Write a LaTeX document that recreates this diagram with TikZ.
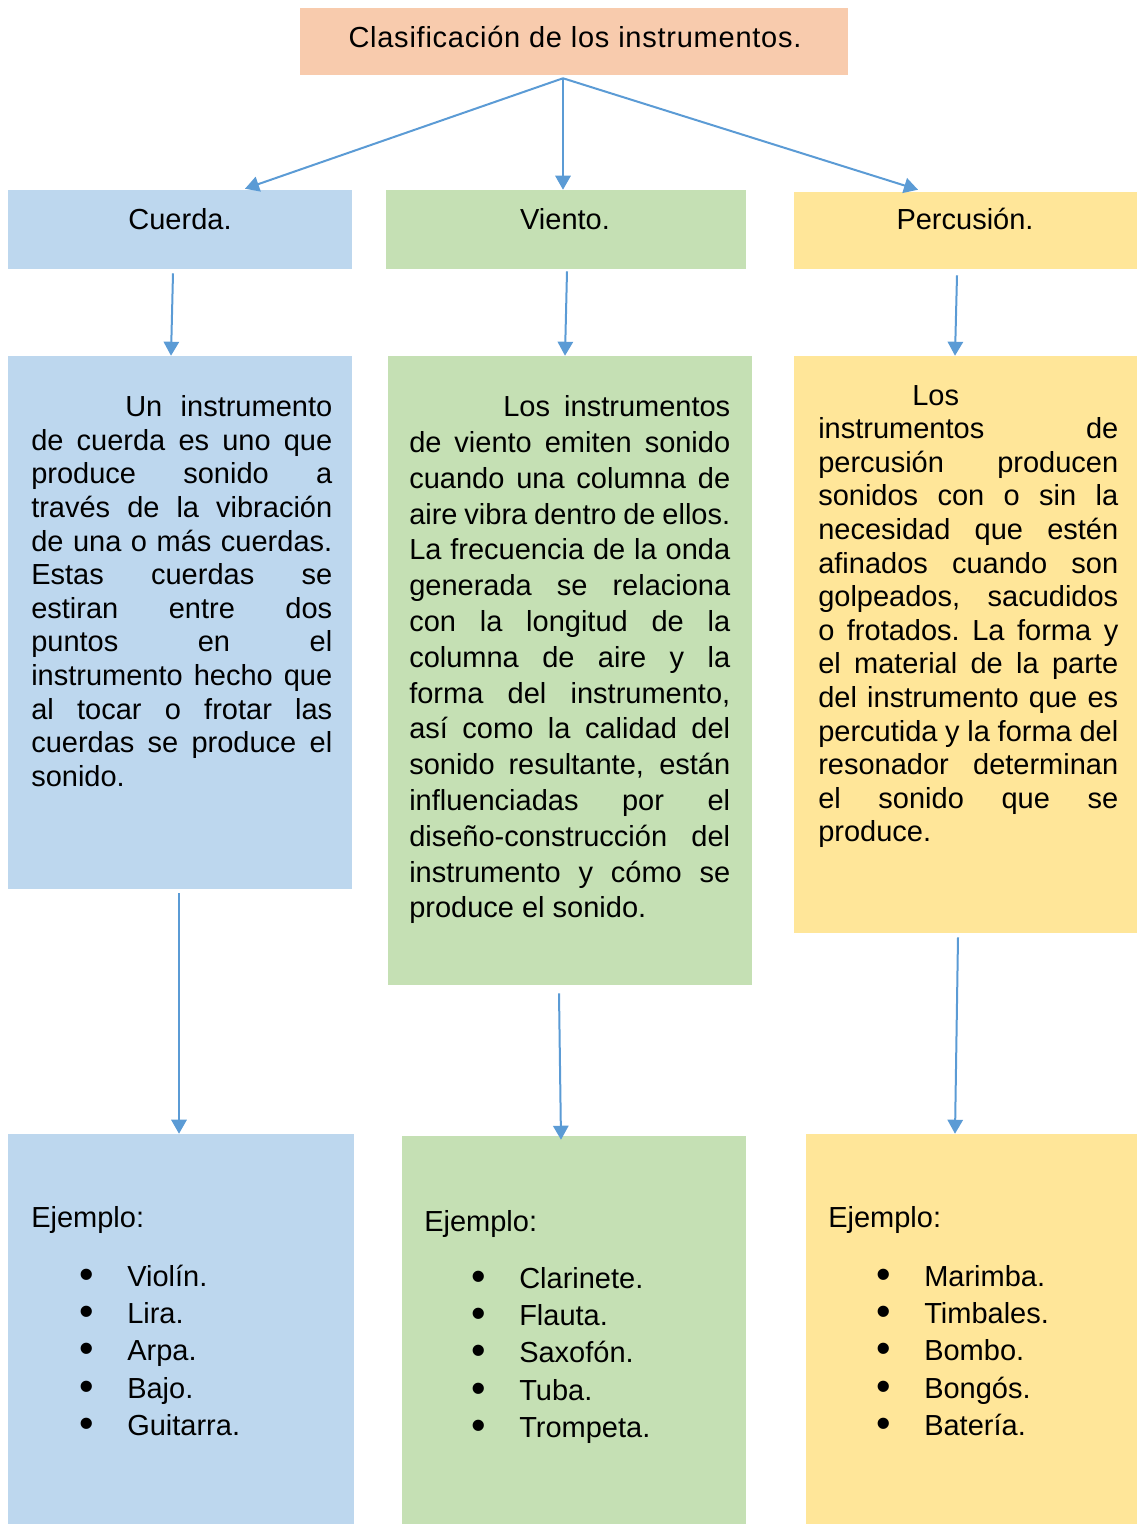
\documentclass[tikz,border=0pt]{standalone}
\usepackage{fontspec}
\setmainfont{Liberation Sans}
\usetikzlibrary{arrows.meta,calc,fit}
\definecolor{peach}{HTML}{F8CBAD}
\definecolor{blu}{HTML}{BDD7EE}
\definecolor{grn}{HTML}{C5E0B4}
\definecolor{yel}{HTML}{FFE699}
\definecolor{arrc}{HTML}{5B9BD5}
\newcommand\jbr{\linebreak}
\newcommand\bodysetup[1]{\fontsize{21.75pt}{#1}\selectfont
  \spaceskip=0.278em plus 1fil minus 0.12em\xspaceskip=\spaceskip
  \parfillskip=0pt plus 1fill\tolerance=10000\pretolerance=-1\linepenalty=1000
  \hyphenpenalty=10000\exhyphenpenalty=10000\parindent=0pt}
\newcommand\bul{\makebox[0pt]{\smash{\raisebox{-1.5pt}{\fontsize{31pt}{31pt}\selectfont •}}}\hspace*{30.75pt}}
\tikzset{
  boxfill/.style={fill=#1,draw=none,inner sep=0pt},
  txt/.style={inner sep=0pt,anchor=base west,font=\fontsize{21.75pt}{26pt}\selectfont},
  head/.style={inner sep=0pt,anchor=base,font=\fontsize{21.75pt}{26pt}\selectfont},
  arr/.style={draw=arrc,line width=1.5pt,-{Triangle[length=10.5pt,width=11.5pt]}}
}
\begin{document}
\begin{tikzpicture}[x=0.75pt,y=-0.75pt]
\useasboundingbox (0,0) rectangle (1137,1524);
% boxes
\node[boxfill=peach,fit={(300,8)(848,75)}] (title) {};
\node[boxfill=blu,fit={(8,190)(352,269)}] (cuerda) {};
\node[boxfill=grn,fit={(386,190)(746,269)}] (viento) {};
\node[boxfill=yel,fit={(794,192)(1137,269)}] (perc) {};
\node[boxfill=blu,fit={(8,356)(352,889)}] (cdesc) {};
\node[boxfill=grn,fit={(388,356)(752,985)}] (vdesc) {};
\node[boxfill=yel,fit={(794,356)(1137,933)}] (pdesc) {};
\node[boxfill=blu,fit={(8,1134)(354,1524)}] (cex) {};
\node[boxfill=grn,fit={(402,1136)(746,1524)}] (vex) {};
\node[boxfill=yel,fit={(806,1134)(1137,1524)}] (pex) {};
% headings
\node[head] (titlet) at (575,47.5) {\addfontfeatures{LetterSpace=2.6}Clasificación de los instrumentos.};
\node[head] (cuerdat) at (180,229) {Cuerda.};
\node[head] (vientot) at (565,229) {Viento.};
\node[head] (perct) at (965,229) {Percusión.};
% descriptions
\node[txt] (cdesct) at (31,416.7) {\parbox[t]{225.75pt}{\bodysetup{25.2pt}%
\hspace*{70.5pt}Un instrumento\jbr
de cuerda es uno que\jbr
produce sonido a\jbr
través de la vibración\jbr
de una o más cuerdas.\jbr
Estas cuerdas se\jbr
estiran entre dos\jbr
puntos en el\jbr
instrumento hecho que\jbr
al tocar o frotar las\jbr
cuerdas se produce el\jbr
sonido.}};
\node[txt] (vdesct) at (409,416.7) {\parbox[t]{240.75pt}{\bodysetup{26.85pt}%
\hspace*{70.5pt}Los instrumentos\jbr
de viento emiten sonido\jbr
cuando una columna de\jbr
aire vibra dentro de ellos.\jbr
La frecuencia de la onda\jbr
generada se relaciona\jbr
con la longitud de la\jbr
columna de aire y la\jbr
forma del instrumento,\jbr
así como la calidad del\jbr
sonido resultante, están\jbr
influenciadas por el\jbr
diseño-construcción del\jbr
instrumento y cómo se\jbr
produce el sonido.}};
\node[txt] (pdesct) at (818,405) {\parbox[t]{225pt}{\bodysetup{25.2pt}%
\hspace*{70.5pt}Los\jbr
instrumentos de\jbr
percusión producen\jbr
sonidos con o sin la\jbr
necesidad que estén\jbr
afinados cuando son\jbr
golpeados, sacudidos\jbr
o frotados. La forma y\jbr
el material de la parte\jbr
del instrumento que es\jbr
percutida y la forma del\jbr
resonador determinan\jbr
el sonido que se\jbr
produce.}};
% examples
\node[txt] (cej) at (31,1227) {Ejemplo:};
\node[txt] (clist) at (86,1286) {\parbox[t]{200pt}{\bodysetup{28.1pt}%
\bul Violín.\\ \bul Lira.\\ \bul Arpa.\\ \bul Bajo.\\ \bul Guitarra.}};
\node[txt] (vej) at (424,1231) {Ejemplo:};
\node[txt] (vlist) at (478,1288) {\parbox[t]{200pt}{\bodysetup{28.1pt}%
\bul Clarinete.\\ \bul Flauta.\\ \bul Saxofón.\\ \bul Tuba.\\ \bul Trompeta.}};
\node[txt] (pej) at (828,1227) {Ejemplo:};
\node[txt] (plist) at (881,1286) {\parbox[t]{200pt}{\bodysetup{28.1pt}%
\hspace*{1.5pt}\bul Marimba.\\ \hspace*{1.5pt}\bul Timbales.\\ \hspace*{1.5pt}\bul Bombo.\\ \hspace*{1.5pt}\bul Bongós.\\ \hspace*{1.5pt}\bul Batería.}};
% arrows
\draw[arr] ($(title.south)+(-11,3)$) -- ($(cuerda.north)+(65,-1)$);
\draw[arr] ($(title.south)+(-11,3)$) -- ($(viento.north)+(-3,0)$);
\draw[arr] ($(title.south)+(-11,3)$) -- ($(perc.north)+(-47.5,-2)$);
\draw[arr] ($(cuerda.south)+(-7,4)$) -- ($(cdesc.north)+(-9,0)$);
\draw[arr] ($(viento.south)+(1,2)$) -- ($(vdesc.north)+(-5,0)$);
\draw[arr] ($(perc.south)+(-8.5,6)$) -- ($(pdesc.north)+(-10.5,0)$);
\draw[arr] ($(cdesc.south)+(-1,4)$) -- ($(cex.north)+(-2,0)$);
\draw[arr] ($(vdesc.south)+(-11,8)$) -- ($(vex.north)+(-13,4)$);
\draw[arr] ($(pdesc.south)+(-7.5,4)$) -- ($(pex.north)+(-16.5,0)$);
\end{tikzpicture}
\end{document}
